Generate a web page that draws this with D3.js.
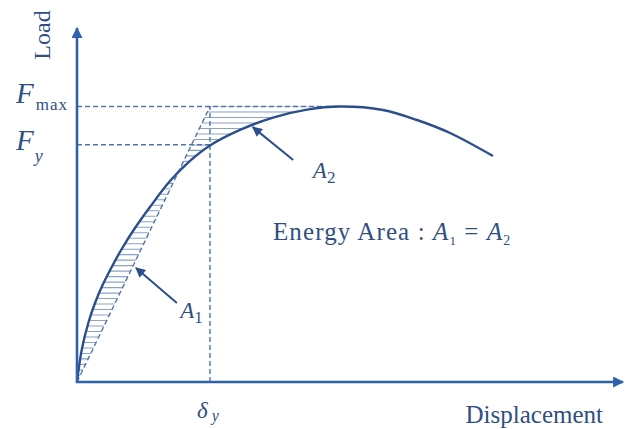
<!DOCTYPE html>
<html><head><meta charset="utf-8">
<script src="https://cdn.jsdelivr.net/npm/d3@7"></script>
<style>body{margin:0;background:#fff}svg{display:block}text{font-family:"Liberation Serif","Times New Roman",serif}</style>
</head><body><svg id="c" width="631" height="429"></svg>
<script>
// ---- data (displacement, load in arbitrary units) ----
const displacement = [0, 0.86, 2.07, 3.30, 4.52, 6.36, 8.19, 10.62, 13.37, 17.03, 20.70, 24.36, 29.85, 35.90, 42.12, 48.17, 56.04, 62.27, 68.32, 76.19];
const load         = [0, 9.04, 16.67, 22.32, 26.84, 32.49, 37.57, 43.50, 49.44, 56.76, 62.45, 66.8, 71.2, 74.7, 76.95, 77.82, 76.84, 74.01, 70.34, 63.84];
const Fmax = 77.82, Fy = 67.0, deltaY = 24.36;
const axisLabels = {x: "Displacement", y: "Load"};
// annotation anchors, in data units
const annA2 = {tail: [39.6, 62.7], tip: [32.2, 72.0], label: [43.2, 57.6]};
const annA1 = {tail: [18.3, 22.3], tip: [10.8, 32.2], label: [18.9, 18.0]};
const energyPos = [35.9, 40.1];

const svg = d3.select("#c");
const x = d3.scaleLinear().domain([0, 100]).range([77, 623]);
const y = d3.scaleLinear().domain([0, 100]).range([382, 28]);

const AX = "#2f62ad", CURVE = "#2a4f8c", TXT = "#2f4f82", DASH = "#5375aa", HATCH = "#8ca3c8";

const defs = svg.append("defs");
function marker(id, color, w, h) {
  defs.append("marker").attr("id", id).attr("viewBox", "0 0 10 10").attr("refX", 9).attr("refY", 5)
    .attr("markerWidth", w).attr("markerHeight", h).attr("markerUnits", "userSpaceOnUse").attr("orient", "auto")
    .append("path").attr("d", "M0,0 L10,5 L0,10 z").attr("fill", color);
}
marker("axArrow", AX, 14, 11);
marker("annArrow", CURVE, 12, 10);

const pts = displacement.map((d, i) => [d, load[i]]);
const peakIdx = load.indexOf(d3.max(load));
const lineGen = d3.line().x(d => x(d[0])).y(d => y(d[1])).curve(d3.curveCatmullRom.alpha(0.5));

// hatched region (A1 + A2): curve up to peak, back along Fmax, down the secant
const risePath = lineGen(pts.slice(0, peakIdx + 1));
const clipD = risePath + "L" + x(deltaY) + "," + y(Fmax) + "L" + x(0) + "," + y(0) + "Z";
defs.append("clipPath").attr("id", "hatchClip").append("path").attr("d", clipD);
const levels = d3.range(0, Fmax + 0.01, 1.55);
svg.append("g").attr("clip-path", "url(#hatchClip)").selectAll("line").data(levels).join("line")
  .attr("x1", x(0)).attr("x2", x(60)).attr("y1", d => y(Fmax - d)).attr("y2", d => y(Fmax - d))
  .attr("stroke", HATCH).attr("stroke-width", 1.1);

// dashed reference lines
const dashes = [
  [[0, Fmax], [displacement[peakIdx], Fmax]],
  [[0, Fy], [deltaY, Fy]],
  [[deltaY, 0], [deltaY, Fmax]],
  [[0, 0], [deltaY, Fmax]]
];
svg.selectAll("line.dash").data(dashes).join("line").attr("class", "dash")
  .attr("x1", d => x(d[0][0])).attr("y1", d => y(d[0][1])).attr("x2", d => x(d[1][0])).attr("y2", d => y(d[1][1]))
  .attr("stroke", DASH).attr("stroke-width", 1.4).attr("stroke-dasharray", "5,3");

// curve
svg.append("path").attr("d", lineGen(pts)).attr("fill", "none").attr("stroke", CURVE).attr("stroke-width", 2.4);

// axes
svg.append("line").attr("x1", x(0) - 1).attr("y1", y(0)).attr("x2", x(100)).attr("y2", y(0))
  .attr("stroke", AX).attr("stroke-width", 2.6).attr("marker-end", "url(#axArrow)");
svg.append("line").attr("x1", x(0)).attr("y1", y(0) + 1).attr("x2", x(0)).attr("y2", y(100))
  .attr("stroke", AX).attr("stroke-width", 2.6).attr("marker-end", "url(#axArrow)");

// annotation arrows
[annA2, annA1].forEach(a => {
  svg.append("line").attr("x1", x(a.tail[0])).attr("y1", y(a.tail[1])).attr("x2", x(a.tip[0])).attr("y2", y(a.tip[1]))
    .attr("stroke", CURVE).attr("stroke-width", 2).attr("marker-end", "url(#annArrow)");
});

// text
const t = svg.append("g").attr("fill", TXT);
t.append("text").attr("transform", `translate(50,35) rotate(-90)`).attr("text-anchor", "middle")
  .attr("font-size", 24).text(axisLabels.y);
t.append("text").attr("x", x(100) - 20).attr("y", 423).attr("text-anchor", "end").attr("font-size", 25).text(axisLabels.x);

function sub(g, X, Y, main, s, mainSize, subSize, dy, subItalic, dx) {
  const tx = g.append("text").attr("x", X).attr("y", Y);
  tx.append("tspan").attr("font-size", mainSize).attr("font-style", "italic").text(main);
  tx.append("tspan").attr("font-size", subSize).attr("dx", dx || 0).attr("dy", dy)
    .attr("font-style", subItalic ? "italic" : "normal").text(s);
  return tx;
}
sub(t, 16, y(Fmax) - 4, "F", "max", 29, 17, 7, false, 2).select("tspan:nth-child(2)").attr("letter-spacing", 1);
sub(t, 16, y(Fy) + 5, "F", "y", 29, 18, 12, true, 1);
sub(t, x(deltaY) - 13, 418, "δ", "y", 23, 16, 3, true, 4);
sub(t, x(annA2.label[0]), y(annA2.label[1]), "A", "2", 23, 17, 5, false, 0);
sub(t, x(annA1.label[0]), y(annA1.label[1]), "A", "1", 23, 17, 5, false, 0);

const e = t.append("text").attr("x", x(energyPos[0])).attr("y", y(energyPos[1])).attr("font-size", 25).attr("letter-spacing", 1.1);
e.append("tspan").text("Energy Area : ");
e.append("tspan").attr("font-style", "italic").text("A");
e.append("tspan").attr("font-size", 13).attr("dy", 5).text("1");
e.append("tspan").attr("dy", -5).text(" = ");
e.append("tspan").attr("font-style", "italic").text("A");
e.append("tspan").attr("font-size", 14).attr("dy", 5).text("2");
</script></body></html>
